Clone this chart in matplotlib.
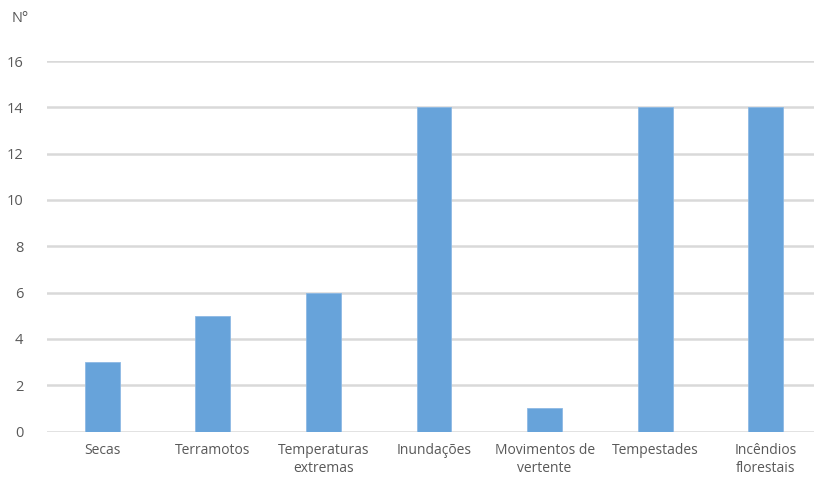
import numpy as np
import matplotlib
matplotlib.use('Agg')
import matplotlib.pyplot as plt

plt.rcParams['font.family'] = ['Open Sans', 'DejaVu Sans']

# Número de ocorrências por tipo de risco
categorias = ['Secas', 'Terramotos', 'Temperaturas\nextremas', 'Inundações',
              'Movimentos de\nvertente', 'Tempestades', 'Incêndios\nflorestais']
ocorrencias = [3, 5, 6, 14, 1, 14, 14]
yticks = [0, 2, 4, 6, 8, 10, 12, 14, 16]

W, H = 814, 478
fig = plt.figure(figsize=(W / 100, H / 100), dpi=100)
ax = fig.add_axes([47 / W, (H - 431.5) / H, 774 / W, 370.5 / H])

x = np.arange(len(categorias))
ax.bar(x, ocorrencias, width=0.316, color='#67A3DA', edgecolor='#8DB9E4',
       linewidth=0.6, zorder=3)

ax.set_xlim(-0.5, len(categorias) - 0.5)
ax.set_ylim(0, 16)
ax.set_yticks(yticks)
ax.set_xticks(x)
ax.set_xticklabels(categorias, fontsize=10, color='#595959', linespacing=1.35)
ax.tick_params(axis='y', labelsize=10.5, labelcolor='#595959', length=0, pad=17)
ax.tick_params(axis='x', length=0, pad=8)

ax.grid(axis='y', color='#D9D9D9', linewidth=1.8, zorder=0)
ax.set_axisbelow(True)
for s in ax.spines.values():
    s.set_visible(False)

fig.text(12 / W, 1 - 18 / H, 'N°', fontsize=10.5, color='#595959',
         ha='left', va='center')

fig.savefig('out.png', dpi=100, facecolor='white')
